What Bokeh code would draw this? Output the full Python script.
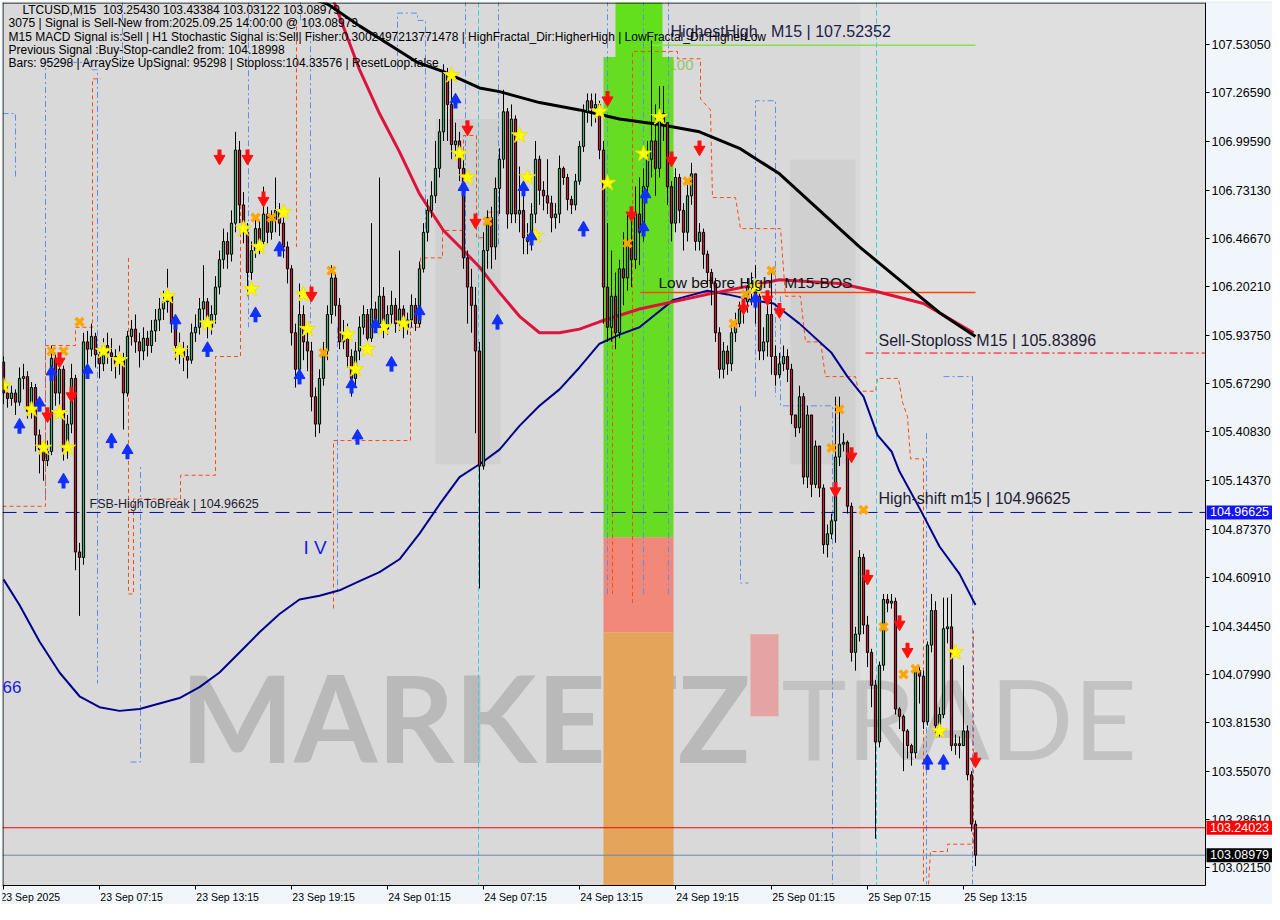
import numpy as np
from bokeh.plotting import figure
from bokeh.models import Range1d, FixedTicker, PrintfTickFormatter, Label
from bokeh.core.properties import value
from bokeh.embed import file_html
from bokeh.resources import INLINE

# ---------------- data ----------------
FIRST_OPEN = 105.79
CLOSE = [
 105.62,105.59,105.62,105.57,105.70,105.71,105.52,105.65,105.39,105.31,105.25,105.30,105.81,105.62,105.75,105.30,105.45,105.70,104.75,104.72,
 105.90,105.86,105.93,105.83,105.78,105.88,105.84,105.82,105.78,105.80,105.62,105.93,105.97,105.90,105.85,105.92,105.88,105.96,106.02,106.08,
 106.12,106.15,106.00,105.88,105.85,105.82,105.80,105.95,105.98,106.08,106.12,105.98,106.05,106.20,106.35,106.45,106.38,106.55,106.95,106.65,
 106.50,106.28,106.40,106.52,106.45,106.60,106.50,106.57,106.62,106.55,106.42,106.30,105.95,105.75,106.05,105.90,105.85,105.60,105.45,105.70,
 105.85,106.05,106.25,106.10,105.90,105.95,105.82,105.70,105.85,105.98,106.05,105.92,106.08,106.00,106.15,105.97,106.05,106.10,106.00,106.08,
 105.98,106.02,106.10,106.00,106.30,106.50,106.62,106.70,106.85,107.05,107.37,107.20,106.98,107.00,106.85,106.36,106.20,106.10,105.85,105.22,
 106.40,106.58,106.42,106.74,106.90,107.16,106.60,107.12,106.60,106.62,106.47,106.45,106.60,106.90,106.73,106.70,106.66,106.58,106.60,106.85,
 106.80,106.68,106.65,106.78,106.97,107.16,107.22,107.18,107.20,106.95,106.20,105.98,106.15,105.95,106.30,106.25,106.45,106.35,106.60,106.50,
 106.75,106.90,107.00,106.85,107.15,107.10,106.75,106.55,106.80,106.62,106.50,106.70,106.82,106.45,106.50,106.38,106.28,106.22,105.95,105.75,
 105.85,105.78,105.95,106.00,106.08,106.12,106.20,106.22,106.15,105.85,105.90,106.05,105.82,105.72,105.78,105.82,105.75,105.50,105.43,105.60,
 105.16,105.50,105.12,105.33,105.10,104.79,104.85,104.92,105.27,105.34,105.35,105.00,104.20,104.30,104.72,104.35,104.20,104.02,103.71,104.13,
 104.49,104.47,104.48,103.89,103.85,103.77,103.69,103.65,104.10,104.07,103.82,104.24,104.43,103.80,103.86,104.33,104.34,103.69,103.70,103.69,103.77,103.53,103.26,103.09,
]
HIGH = [
 105.82,105.66,105.66,105.64,105.76,105.78,105.74,105.68,105.67,105.42,105.33,105.36,105.88,105.84,105.80,105.77,105.50,105.78,105.72,104.80,
 105.95,105.96,106.00,105.95,105.86,105.92,105.95,105.92,105.86,105.88,105.84,105.96,106.02,106.05,105.95,105.98,105.96,106.02,106.08,106.14,
 106.18,106.30,106.16,106.02,105.95,105.90,105.88,106.00,106.05,106.14,106.32,106.14,106.10,106.26,106.40,106.52,106.50,106.62,107.05,107.00,
 106.72,106.55,106.45,106.58,106.56,106.75,106.64,106.62,106.80,106.66,106.58,106.45,106.32,106.00,106.22,106.10,105.98,105.90,105.65,105.75,
 105.90,106.10,106.32,106.28,106.14,106.02,106.00,105.86,105.90,106.04,106.10,106.08,106.55,106.12,106.80,106.20,106.10,106.18,106.14,106.40,
 106.10,106.06,106.16,106.14,106.34,106.55,106.68,106.78,107.00,107.12,107.42,107.40,107.35,107.10,107.05,106.90,106.40,106.30,106.20,105.90,
 106.50,106.62,106.64,106.80,106.96,107.28,107.18,107.20,107.14,106.86,106.70,106.55,106.66,107.00,106.92,106.78,106.90,106.70,106.66,106.92,
 106.86,106.82,106.70,106.82,107.00,107.20,107.26,107.26,107.26,107.22,107.00,106.55,106.40,106.28,106.35,106.50,106.60,106.62,106.75,106.80,
 106.85,107.00,107.55,107.20,107.30,107.30,107.10,106.78,106.85,106.82,106.66,106.76,106.88,106.82,106.55,106.52,106.40,106.30,106.25,105.98,
 105.90,105.88,106.00,106.06,106.12,106.18,106.25,106.28,106.32,106.20,105.98,106.12,106.30,105.88,105.84,105.88,105.86,105.78,105.50,105.66,
 105.62,105.55,105.50,105.36,105.33,105.12,104.90,104.96,105.60,105.60,105.40,105.36,105.02,104.34,104.76,104.74,104.40,104.22,104.05,104.15,
 104.52,104.52,104.52,104.50,103.90,103.86,103.78,103.70,104.12,104.12,104.10,104.26,104.52,104.48,103.90,104.50,104.50,104.52,103.75,103.74,104.13,103.80,103.55,103.28,
]
LOW = [
 105.56,105.54,105.55,105.50,105.55,105.64,105.48,105.48,105.30,105.18,105.14,105.22,105.28,105.55,105.55,105.25,105.26,105.40,104.65,104.40,
 104.68,105.78,105.82,105.76,105.70,105.74,105.78,105.74,105.70,105.72,105.42,105.60,105.88,105.84,105.76,105.80,105.82,105.84,105.90,105.96,
 106.02,106.06,105.95,105.80,105.78,105.74,105.70,105.78,105.90,105.94,106.02,105.92,105.94,106.00,106.16,106.30,106.30,106.34,106.50,106.55,
 106.44,106.15,106.24,106.36,106.38,106.42,106.44,106.46,106.50,106.48,106.36,106.22,105.88,105.65,105.70,105.80,105.74,105.52,105.38,105.40,
 105.66,105.80,106.00,106.04,105.86,105.86,105.76,105.60,105.66,105.80,105.94,105.88,105.90,105.95,105.98,105.92,105.94,106.00,105.95,105.96,
 105.92,105.94,105.98,105.96,105.98,106.28,106.45,106.58,106.66,106.80,107.00,107.00,106.90,106.90,106.78,106.30,106.00,105.95,105.40,104.55,
 105.20,106.30,106.30,106.35,106.60,106.85,106.52,106.55,106.55,106.50,106.38,106.38,106.40,106.55,106.65,106.62,106.60,106.50,106.52,106.55,
 106.76,106.62,106.60,106.62,106.76,106.94,107.10,107.08,107.10,106.90,106.00,105.90,105.90,105.86,105.92,106.10,106.18,106.20,106.30,106.32,
 106.45,106.70,106.80,106.70,106.80,107.00,106.65,106.45,106.50,106.55,106.40,106.45,106.65,106.40,106.40,106.30,106.20,106.10,105.90,105.70,
 105.70,105.72,105.74,105.90,105.98,106.00,106.06,106.10,106.00,105.80,105.80,105.82,105.72,105.66,105.70,105.74,105.68,105.45,105.38,105.40,
 105.12,105.10,105.05,105.10,105.05,104.74,104.72,104.82,104.80,105.22,105.30,104.96,104.15,104.10,104.26,104.30,104.12,103.90,103.18,103.68,
 104.10,104.42,104.44,103.86,103.78,103.55,103.62,103.58,103.62,103.92,103.78,103.80,104.20,103.76,103.74,103.84,104.25,103.66,103.64,103.62,103.70,103.50,103.22,103.03,
]

Y_TICKS = [107.53050, 107.26590, 106.99590, 106.73130, 106.46670, 106.20210, 105.93750, 105.67290,
           105.40830, 105.14370, 104.87370, 104.60910, 104.34450, 104.07990, 103.81530, 103.55070,
           103.28610, 103.02150]
X_TICKS = [0, 24, 48, 72, 96, 120, 144, 168, 192, 216, 240]
X_LABELS = ["23 Sep 2025", "23 Sep 07:15", "23 Sep 13:15", "23 Sep 19:15", "24 Sep 01:15", "24 Sep 07:15",
            "24 Sep 13:15", "24 Sep 19:15", "25 Sep 01:15", "25 Sep 07:15", "25 Sep 13:15"]

# moving averages (bar index, price)
BLACK_I = [74, 81, 89, 97, 103.5, 110, 119, 124, 134, 144, 154, 164, 174, 184, 194, 204, 214, 224, 234, 243]
BLACK_P = [107.80, 107.75, 107.63, 107.52, 107.43, 107.38, 107.29, 107.27, 107.21, 107.17, 107.12, 107.09, 107.05,
           106.96, 106.82, 106.62, 106.42, 106.24, 106.06, 105.93]
RED_I = [81, 82.5, 89, 94, 99, 104, 110, 115, 119, 124, 129, 134, 139, 144, 149, 159, 176, 194, 209, 217.5, 230, 242.5]
RED_P = [107.85, 107.77, 107.39, 107.15, 106.94, 106.71, 106.51, 106.40, 106.31, 106.17, 106.04, 105.95, 105.95,
         105.97, 106.01, 106.08, 106.16, 106.24, 106.22, 106.18, 106.11, 105.95]
NAVY_I = [0, 4, 9, 14, 19, 24, 29, 34, 39, 44, 49, 54, 59, 64, 69, 74, 79, 84, 89, 94, 99, 104, 109, 114, 119, 124,
          129, 134, 139, 144, 149, 154, 159, 167.5, 176, 181, 187, 192.5, 199, 207, 211, 215, 218.5, 222, 224, 229,
          234, 239, 243]
NAVY_P = [104.60, 104.46, 104.26, 104.09, 103.96, 103.90, 103.88, 103.89, 103.92, 103.95, 104.01, 104.09, 104.20,
          104.31, 104.41, 104.49, 104.51, 104.54, 104.59, 104.64, 104.71, 104.85, 105.01, 105.16, 105.23, 105.31,
          105.44, 105.55, 105.64, 105.76, 105.89, 105.94, 105.98, 106.13, 106.18, 106.16, 106.13, 106.11, 106.00,
          105.84, 105.71, 105.60, 105.39, 105.30, 105.19, 104.99, 104.78, 104.63, 104.46]

# step channels
ORANGE_XS = [
    [-0.25, 10.5, 10.5, 18, 18, 22.25, 22.25, 24.25],
    [31.25, 31.25, 32.5, 32.5, 44.25, 44.25, 53, 53, 59.25, 59.25],
    [71.25, 73.25, 73.25],
    [82.5, 82.5, 101.75, 101.75, 104.25, 104.25, 109.75, 109.75, 115, 115, 118.25, 118.25, 121, 121, 123.75],
    [152.25, 152.25],
    [157.25, 157.25, 168.5, 168.5, 174.25, 174.25, 176.75, 177.25, 183, 184.25, 194.25, 195.5, 199.25, 200.5,
     204.25, 205.5, 213, 213.75, 218, 218.5, 223.75, 224.75, 226, 226.75, 230, 230],
    [231.25, 231.75, 236, 236, 242.5, 242.5],
]
ORANGE_YS = [
    [105.0, 105.0, 105.88, 105.88, 105.98, 105.98, 107.34, 107.34],
    [106.36, 104.52, 104.52, 105.04, 105.04, 105.17, 105.17, 105.82, 105.82, 106.90],
    [107.66, 107.66, 106.42],
    [104.44, 105.36, 105.36, 105.98, 105.98, 106.36, 106.36, 106.51, 106.51, 107.03, 107.03, 106.47, 106.47, 106.61, 106.61],
    [106.15, 104.52],
    [104.47, 107.49, 107.49, 107.45, 107.45, 107.23, 107.17, 106.69, 106.69, 106.52, 106.52, 106.15, 106.15, 105.90,
     105.90, 105.71, 105.71, 105.63, 105.63, 105.70, 105.70, 105.57, 105.49, 105.26, 105.26, 102.93],
    [102.93, 103.11, 103.11, 103.15, 103.15, 104.32],
]
BLUE_XS = [
    [-0.25, 3, 3], [10.5, 10.5, 21.75, 21.75, 23.5, 23.5], [31.75, 34.25, 34.25], [29.75, 29.75],
    [61.25, 61.25], [74.25, 74.25, 76.75, 76.75], [83.5, 83.5], [98.5, 98.5, 103.5, 103.5, 105.5, 105.5],
    [115.5, 115.5], [123.75, 123.75], [151, 151], [160, 160], [166.25, 166.25], [188, 188, 193, 193],
    [184.25, 184.25, 186.25], [194.25, 194.25, 207.25, 207.25], [230.75, 230.75], [235, 242.25, 242.25],
]
BLUE_YS = [
    [107.15, 107.15, 106.80], [105.04, 107.43, 107.43, 107.39, 107.39, 104.03], [103.60, 103.60, 105.23], [107.77, 107.39],
    [107.77, 105.98], [107.77, 107.66, 107.66, 105.98], [105.98, 104.52], [107.39, 107.70, 107.70, 107.66, 107.66, 106.52],
    [107.77, 106.36], [107.77, 106.42], [107.77, 104.52], [107.77, 104.52], [107.77, 104.52], [105.60, 107.22, 107.22, 105.60],
    [105.55, 104.58, 104.58], [106.15, 105.55, 105.55, 102.93], [105.40, 102.93], [105.71, 105.71, 102.93],
]
CYAN_I = [118.75, 218.25]

# signal markers
STAR_I = [0, 7, 10, 14, 16, 25, 29, 41, 44, 51, 60, 62, 64, 70, 75, 76, 86, 88, 91, 95, 100, 112, 114, 116, 129,
          131, 133, 149, 151, 160, 164, 188, 238, 234]
STAR_P = [105.66, 105.53, 105.32, 105.51, 105.32, 105.85, 105.80, 106.15, 105.85, 106.00, 106.52, 106.19, 106.42,
          106.61, 106.16, 105.97, 105.94, 105.75, 105.86, 105.98, 106.00, 107.36, 106.93, 106.80, 107.03, 106.80,
          106.48, 107.16, 106.77, 106.93, 107.13, 106.20, 104.20, 103.77]
UP_I = [4, 9, 12, 15, 21, 27, 31, 43, 51, 63, 69, 74, 87, 88.5, 93, 97, 104, 113, 115, 123.5, 130, 132, 145, 160,
        160.5, 188, 231, 235]
UP_P = [105.43, 105.55, 105.72, 105.13, 105.73, 105.35, 105.29, 106.00, 105.85, 106.04, 106.40, 105.70, 105.65,
        105.37, 105.98, 105.77, 106.05, 107.21, 106.73, 106.00, 106.73, 106.46, 106.51, 106.51, 106.69, 106.12,
        103.59, 103.59]
DN_I = [11, 14, 17, 54, 61, 65, 77, 116, 118, 151, 157, 167, 174, 185, 191, 194, 208, 212, 216, 224, 226, 243]
DN_P = [105.51, 105.81, 105.62, 106.92, 106.92, 106.69, 106.17, 107.08, 106.57, 107.24, 106.61, 106.91, 106.97,
        106.10, 106.15, 106.08, 105.10, 105.29, 104.62, 104.37, 104.22, 103.62]
X_I = [12, 15, 19, 63, 67, 80, 82, 121, 156, 171, 182.5, 185.5, 192, 207, 209, 215, 220, 225, 228]
X_P = [105.85, 105.85, 106.01, 106.58, 106.58, 105.84, 106.29, 106.56, 106.44, 106.78, 106.00, 106.16, 106.29,
       105.32, 105.53, 104.98, 104.34, 104.08, 104.11]

# levels
LEVEL_FSB = 104.96625
LEVEL_STOPLOSS = 105.83896
LEVEL_HH = 107.52352
LEVEL_LBH = 106.17
BID = 103.08979
ASK_LINE = 103.24023

INFO = [
    "LTCUSD,M15\u00a0\u00a0103.25430 103.43384 103.03122 103.08979",
    "3075 | Signal is Sell-New from:2025.09.25 14:00:00 @ 103.08979",
    "M15 MACD Signal is:Sell | H1 Stochastic Signal is:Sell| Fisher:0.3002497213771478 | HighFractal_Dir:HigherHigh | LowFractal_Dir:HigherLow",
    "Previous Signal :Buy-Stop-candle2 from: 104.18998",
    "Bars: 95298 | ArraySize UpSignal: 95298 | Stoploss:104.33576 | ResetLoop:false",
]

# ---------------- build ----------------
n = len(CLOSE)
assert n == len(HIGH) == len(LOW)
idx = np.arange(n)
c = np.array(CLOSE)
o = np.concatenate([[FIRST_OPEN], c[:-1]])
h = np.maximum(np.array(HIGH), np.maximum(o, c))
l = np.minimum(np.array(LOW), np.minimum(o, c))

W, H = 1272, 904
PLOT_TOP, PLOT_BOT = 107.758, 102.924       # price at top / bottom of the chart area
X0 = -0.25                                   # bar index at the left edge
PPB = 4.0                                    # pixels per bar
PLOT_RIGHT = X0 + (1205 - 2) / PPB           # right edge of the chart area (bar index)
X1 = X0 + (W - 2) / PPB
PX = (PLOT_TOP - PLOT_BOT) / 883.0           # price per pixel
Y0 = PLOT_TOP - (H - 2) * PX

BG_OUT = "#F0F6FC"

p = figure(width=W, height=H, output_backend="svg", toolbar_location=None,
           x_range=Range1d(X0, X1), y_range=Range1d(Y0, PLOT_TOP), y_axis_location="right",
           min_border_left=2, min_border_top=2, min_border_right=0, min_border_bottom=0)
p.background_fill_color = "#D9D9D9"
p.border_fill_color = BG_OUT
p.outline_line_color = None
p.grid.visible = False

# outside (price scale / time scale) areas
p.quad(left=[PLOT_RIGHT, X0], right=[X1, X1], top=[PLOT_TOP, PLOT_BOT], bottom=[Y0, Y0],
       fill_color=BG_OUT, line_color=None)

ya = p.yaxis[0]
ya.fixed_location = PLOT_RIGHT
ya.bounds = (PLOT_BOT, PLOT_TOP)
ya.ticker = FixedTicker(ticks=Y_TICKS)
ya.formatter = PrintfTickFormatter(format="%.5f")
ya.major_label_text_font = "Liberation Sans"
ya.major_label_text_font_size = "12.5px"
ya.major_label_text_color = "black"
ya.major_tick_out = 4
ya.major_tick_in = 0
ya.minor_tick_line_color = None
ya.axis_line_color = "black"
ya.major_label_standoff = 2

xa = p.xaxis[0]
xa.fixed_location = PLOT_BOT
xa.bounds = (X0, PLOT_RIGHT)
xa.ticker = FixedTicker(ticks=X_TICKS)
pad = "\u00a0" * 22
xa.major_label_overrides = {t: (lab if t == 0 else pad + lab) for t, lab in zip(X_TICKS, X_LABELS)}
xa.major_label_text_font = "Liberation Sans"
xa.major_label_text_font_size = "10.5px"
xa.major_label_text_color = "black"
xa.major_tick_out = 4
xa.major_tick_in = 0
xa.minor_tick_line_color = None
xa.axis_line_color = "black"
xa.major_label_standoff = 1

# background logo shapes
p.quad(left=[214.25], right=[PLOT_RIGHT], top=[PLOT_TOP], bottom=[PLOT_BOT], fill_color="#DFDFDF", line_color=None)
p.quad(left=[108, 196.75], right=[124.25, 213], top=[107.12, 106.90], bottom=[105.23, 105.23],
       fill_color="#D0D0D0", line_color=None)

# watermark
p.text(x=[44.25], y=[103.846], text=["MARKETZ"], text_font=value("Lato"), text_font_style="bold",
       text_font_size="120px", text_color="#B9B9B9", text_baseline="alphabetic", text_align="left")
p.quad(left=[186.75], right=[193.75], top=[104.30], bottom=[103.85], fill_color="#E6A3A3", line_color=None)
p.text(x=[194.5], y=[103.846], text=["TRADE"], text_font=value("Lato"), text_font_style="normal",
       text_font_size="110px", text_color="#C2C2C2", text_baseline="alphabetic", text_align="left")

p.text(x=[166.25], y=[107.418], text=["100"], text_font=value("Liberation Sans"), text_font_size="15px",
       text_color="#92C46E", text_baseline="middle")

# signal band
p.quad(left=[153], right=[164.75], top=[PLOT_TOP], bottom=[107.46], fill_color="#62E01C", line_color=None)
p.quad(left=[150], right=[167.5], top=[107.46], bottom=[104.83], fill_color="#66DD22", line_color=None)
p.quad(left=[150], right=[167.5], top=[104.83], bottom=[104.31], fill_color="#F2887A", line_color=None)
p.quad(left=[150], right=[167.5], top=[104.31], bottom=[PLOT_BOT], fill_color="#E4A45A", line_color=None)

# step channels
p.multi_line(xs=BLUE_XS, ys=BLUE_YS, line_color="#5A8EEA", line_width=1, line_dash="6 3 2 3")
p.multi_line(xs=ORANGE_XS, ys=ORANGE_YS, line_color="#FF4A10", line_width=1, line_dash="4 3")
p.multi_line(xs=[[x, x] for x in CYAN_I], ys=[[PLOT_TOP, PLOT_BOT] for _ in CYAN_I], line_color="#2FD0E0",
             line_width=1, line_dash="5 3")

# levels
p.segment(x0=[X0], y0=[ASK_LINE], x1=[PLOT_RIGHT], y1=[ASK_LINE], line_color="#FF0000", line_width=1)
p.segment(x0=[X0], y0=[BID], x1=[PLOT_RIGHT], y1=[BID], line_color="#6A88A8", line_width=1)
p.segment(x0=[X0], y0=[LEVEL_FSB], x1=[PLOT_RIGHT], y1=[LEVEL_FSB], line_color="#0A0AA0", line_width=1,
          line_dash="14 7")
p.segment(x0=[215.5], y0=[LEVEL_STOPLOSS], x1=[PLOT_RIGHT], y1=[LEVEL_STOPLOSS], line_color="#FF0000",
          line_width=1, line_dash="8 3 2 3")
p.segment(x0=[159.25], y0=[LEVEL_LBH], x1=[243], y1=[LEVEL_LBH], line_color="#FF4500", line_width=1.5)
p.segment(x0=[161.75], y0=[LEVEL_HH], x1=[243], y1=[LEVEL_HH], line_color="#8CE04A", line_width=1.5)

# moving averages
p.line(NAVY_I, NAVY_P, line_color="#00008B", line_width=2)
p.line(RED_I, RED_P, line_color="#DC143C", line_width=3)
p.line(BLACK_I, BLACK_P, line_color="#000000", line_width=3)

# candles
p.segment(x0=idx, y0=l, x1=idx, y1=h, line_color="black", line_width=1)
top = np.maximum(o, c)
bot = np.minimum(o, c)
small = (top - bot) < 0.006
mid = (top + bot) / 2
top = np.where(small, mid + 0.003, top)
bot = np.where(small, mid - 0.003, bot)
colors = ["#3CB371" if cc >= oo else "#D2143A" for oo, cc in zip(o, c)]
p.vbar(x=idx, width=0.55, top=top, bottom=bot, fill_color=colors, line_color="black", line_width=1)

# markers
p.scatter(STAR_I, STAR_P, marker="star", size=17, fill_color="#FFFF00", line_color="#F0E000")
p.scatter(X_I, X_P, marker="x", size=11, line_color="#FFA500", line_width=3.5)


def arrows(I, P, color, up=True):
    I = np.array(I, dtype=float)
    P = np.array(P, dtype=float)
    s = 1 if up else -1
    p.segment(x0=I, y0=P - s * 6 * PX, x1=I, y1=P + s * 1 * PX, line_color=color, line_width=4)
    p.scatter(I, P + s * 3 * PX, marker="triangle" if up else "inverted_triangle", size=11,
              fill_color=color, line_color=color)


arrows(UP_I, UP_P, "#1030FF", up=True)
arrows(DN_I, DN_P, "#FF1010", up=False)

# chart frame (top and left edges; right and bottom are the axis lines)
p.segment(x0=[X0, X0 + 0.12], y0=[PLOT_TOP - 0.5 * PX, PLOT_TOP], x1=[PLOT_RIGHT, X0 + 0.12],
          y1=[PLOT_TOP - 0.5 * PX, PLOT_BOT], line_color="black", line_width=1)


# level texts
def txt(x, y, s, size, color="#1C1C34", font="Liberation Sans"):
    p.text(x=[x], y=[y], text=[s], text_font=value(font), text_font_size=size, text_color=color,
           text_baseline="middle", text_align="left")


txt(166.75, 107.597, "HighestHigh\u00a0\u00a0 M15 | 107.52352", "16px", "#202048")
txt(163.75, 106.227, "Low before High\u00a0\u00a0 M15-BOS", "15.5px", "#111111")
txt(218.75, 105.908, "Sell-Stoploss M15 | 105.83896", "16px")
txt(218.75, 105.040, "High-shift m15 | 104.96625", "16px")
txt(21.5, 105.010, "FSB-HighToBreak | 104.96625", "12.5px")
txt(75, 104.777, "I V", "19px", "#1A1AE6")
txt(-0.25, 104.008, "66", "17px", "#1A1AE6")

info_y = [107.716, 107.645, 107.570, 107.499, 107.429]
info_x = [4.75, 1.25, 1.25, 1.25, 1.25]
for xx, yy, s in zip(info_x, info_y, INFO):
    txt(xx, yy, s, "12px", "#000000")

# price boxes on the price scale
for val, bg in [(LEVEL_FSB, "#1414F0"), (ASK_LINE, "#FF0000"), (BID, "#000000")]:
    p.add_layout(Label(x=PLOT_RIGHT, y=val, x_offset=1, text="\u00a0%.5f\u00a0" % val, text_color="white",
                       background_fill_color=bg, text_font="Liberation Sans", text_font_size="12.5px",
                       text_baseline="middle", text_align="left"))

open("out.html", "w").write(file_html(p, INLINE))
